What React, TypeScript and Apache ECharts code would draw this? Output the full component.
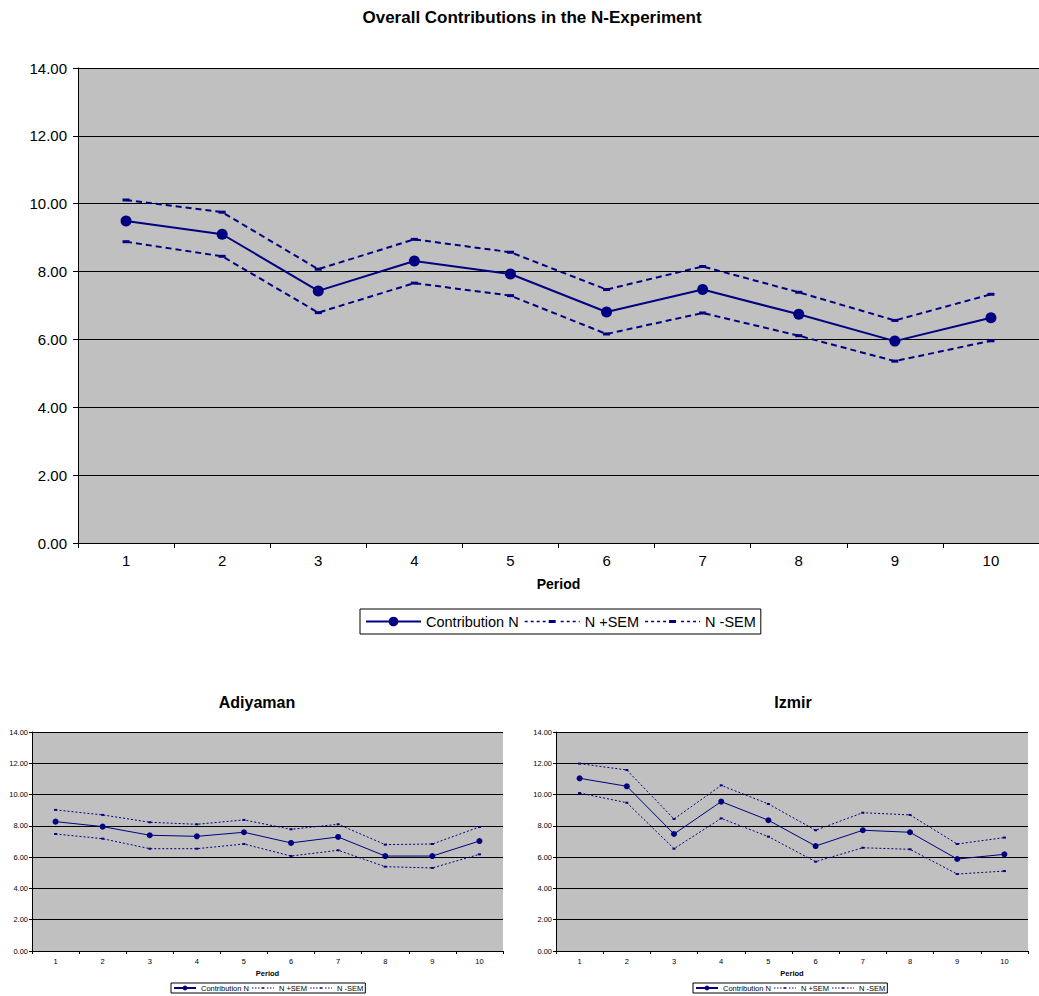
import React, { useEffect, useRef } from "react";
import * as echarts from "echarts";

const periods = ["1", "2", "3", "4", "5", "6", "7", "8", "9", "10"];
const seriesNames = ["Contribution N", "N +SEM", "N -SEM"];

const mainContribution = [9.49, 9.1, 7.43, 8.31, 7.93, 6.81, 7.47, 6.74, 5.95, 6.64];
const mainPlusSem = [10.11, 9.75, 8.07, 8.95, 8.57, 7.47, 8.15, 7.39, 6.56, 7.33];
const mainMinusSem = [8.88, 8.45, 6.79, 7.66, 7.29, 6.16, 6.78, 6.11, 5.36, 5.96];

const adiyamanContribution = [8.27, 7.95, 7.4, 7.33, 7.59, 6.91, 7.29, 6.07, 6.07, 7.03];
const adiyamanPlusSem = [9.02, 8.7, 8.23, 8.1, 8.38, 7.78, 8.1, 6.8, 6.84, 7.93];
const adiyamanMinusSem = [7.48, 7.18, 6.54, 6.54, 6.84, 6.07, 6.44, 5.39, 5.31, 6.18];

const izmirContribution = [11.04, 10.53, 7.48, 9.55, 8.36, 6.71, 7.72, 7.59, 5.88, 6.18];
const izmirPlusSem = [11.98, 11.57, 8.44, 10.59, 9.4, 7.72, 8.84, 8.7, 6.84, 7.25];
const izmirMinusSem = [10.1, 9.48, 6.54, 8.48, 7.31, 5.71, 6.6, 6.5, 4.92, 5.11];

const yMin = 0;
const yMax = 14;
const yStep = 2;

const FONT = "'Liberation Sans', Arial, sans-serif";
const NAVY = "#000080";

function semIcon(w: number, h: number, dash: number, gap: number, thin: number, markW: number, markH: number) {
  const cy = h / 2;
  let d = "";
  const mx = (w - markW) / 2;
  for (let x = 0; x < w; x += dash + gap) {
    const len = Math.min(dash, w - x);
    if (x + len > mx && x < mx + markW) continue;
    d += `M${x},${cy - thin / 2}h${len}v${thin}h${-len}z`;
  }
  d += `M${mx},${cy - markH / 2}h${markW}v${markH}h${-markW}z`;
  d += `M0,0h0.01v0.01h-0.01zM${w - 0.01},${h - 0.01}h0.01v0.01h-0.01z`;
  return "path://" + d;
}

type Cfg = {
  width: number;
  height: number;
  title: string;
  titleSize: number;
  titleX: number;
  titleTop: number;
  grid: { left: number; top: number; width: number; height: number };
  axisFont: number;
  yLabelMargin: number;
  xLabelMargin: number;
  tickLen: number;
  nameSize: number;
  nameGap: number;
  legendLeft: number;
  legendTop: number;
  legendFont: number;
  legendItemW: number;
  legendItemH: number;
  legendPad: number[];
  legendGap: number;
  semIconPath: string;
  mainWidth: number;
  semWidth: number;
  dash: number[];
  circleSize: number;
  semMark: number[];
  contribution: number[];
  plus: number[];
  minus: number[];
};

function buildOption(c: Cfg) {
  return {
    animation: false,
    backgroundColor: "#ffffff",
    textStyle: { fontFamily: FONT },
    title: {
      text: c.title,
      left: c.titleX,
      top: c.titleTop,
      textAlign: "center",
      textStyle: { fontFamily: FONT, fontSize: c.titleSize, fontWeight: "bold", color: "#000" },
    },
    grid: {
      left: c.grid.left,
      top: c.grid.top,
      width: c.grid.width,
      height: c.grid.height,
      show: true,
      backgroundColor: "#C0C0C0",
      borderWidth: 0,
    },
    legend: {
      left: c.legendLeft,
      top: c.legendTop,
      orient: "horizontal",
      borderColor: "#000",
      borderWidth: 1,
      padding: c.legendPad,
      itemGap: c.legendGap,
      itemWidth: c.legendItemW,
      itemHeight: c.legendItemH,
      selectedMode: false,
      textStyle: { fontFamily: FONT, fontSize: c.legendFont, color: "#000" },
      itemStyle: { borderWidth: 0 },
      data: [
        { name: seriesNames[0] },
        { name: seriesNames[1], icon: c.semIconPath },
        { name: seriesNames[2], icon: c.semIconPath },
      ],
    },
    xAxis: {
      type: "category",
      data: periods,
      boundaryGap: true,
      axisLine: { show: true, lineStyle: { color: "#000", width: 1 } },
      axisTick: { show: true, length: c.tickLen, interval: 0, lineStyle: { color: "#000" } },
      axisLabel: {
        color: "#000",
        fontFamily: FONT,
        fontSize: c.axisFont,
        margin: c.xLabelMargin,
        interval: 0,
      },
      splitLine: { show: false },
      name: "Period",
      nameLocation: "middle",
      nameGap: c.nameGap,
      nameTextStyle: { fontFamily: FONT, fontSize: c.nameSize, fontWeight: "bold", color: "#000" },
    },
    yAxis: {
      type: "value",
      min: yMin,
      max: yMax,
      interval: yStep,
      axisLine: { show: true, lineStyle: { color: "#000", width: 1 } },
      axisTick: { show: true, length: c.tickLen, lineStyle: { color: "#000" } },
      axisLabel: {
        color: "#000",
        fontFamily: FONT,
        fontSize: c.axisFont,
        margin: c.yLabelMargin,
        formatter: (v: number) => v.toFixed(2),
      },
      splitLine: { show: true, lineStyle: { color: "#000", width: 1 } },
    },
    series: [
      {
        name: seriesNames[1],
        type: "line",
        data: c.plus,
        symbol: "rect",
        symbolSize: c.semMark,
        itemStyle: { color: NAVY, borderWidth: 0 },
        lineStyle: { color: NAVY, width: c.semWidth, type: c.dash },
      },
      {
        name: seriesNames[2],
        type: "line",
        data: c.minus,
        symbol: "rect",
        symbolSize: c.semMark,
        itemStyle: { color: NAVY, borderWidth: 0 },
        lineStyle: { color: NAVY, width: c.semWidth, type: c.dash },
      },
      {
        name: seriesNames[0],
        type: "line",
        data: c.contribution,
        symbol: "circle",
        symbolSize: c.circleSize,
        itemStyle: { color: NAVY, borderWidth: 0 },
        lineStyle: { color: NAVY, width: c.mainWidth, type: "solid" },
      },
    ],
  };
}

function LineChart({ cfg, left, top }: { cfg: Cfg; left: number; top: number }) {
  const ref = useRef<HTMLDivElement>(null);
  useEffect(() => {
    if (!ref.current) return;
    const chart = echarts.init(ref.current, undefined, { renderer: "svg" });
    chart.setOption(buildOption(cfg) as any);
    return () => chart.dispose();
  }, [cfg]);
  return (
    <div
      ref={ref}
      style={{ position: "absolute", left, top, width: cfg.width, height: cfg.height, overflow: "hidden" }}
    />
  );
}

const mainCfg: Cfg = {
  width: 1039,
  height: 660,
  title: "Overall Contributions in the N-Experiment",
  titleSize: 17,
  titleX: 527,
  titleTop: 4,
  grid: { left: 78, top: 68, width: 965, height: 475 },
  axisFont: 15,
  yLabelMargin: 11,
  xLabelMargin: 10,
  tickLen: 5,
  nameSize: 14,
  nameGap: 34,
  legendLeft: 360,
  legendTop: 609,
  legendFont: 14.5,
  legendItemW: 55,
  legendItemH: 12,
  legendPad: [5, 5],
  legendGap: 6,
  semIconPath: semIcon(55, 12, 3, 3, 1.5, 7, 3),
  mainWidth: 2,
  semWidth: 2,
  dash: [6, 4],
  circleSize: 11,
  semMark: [7, 3],
  contribution: mainContribution,
  plus: mainPlusSem,
  minus: mainMinusSem,
};

const smallBase = {
  width: 520,
  height: 316,
  titleSize: 16,
  titleTop: 9,
  axisFont: 7.5,
  yLabelMargin: 4,
  xLabelMargin: 6,
  tickLen: 3,
  nameSize: 7.5,
  nameGap: 16,
  legendTop: 303,
  legendFont: 7.5,
  legendItemW: 22,
  legendItemH: 6,
  legendPad: [1, 2],
  legendGap: 3,
  semIconPath: semIcon(22, 6, 1.5, 1.5, 0.8, 3, 1.5),
  mainWidth: 1,
  semWidth: 1,
  dash: [2, 2],
  circleSize: 6,
  semMark: [3, 2],
};

const adiyamanCfg: Cfg = {
  ...smallBase,
  title: "Adiyaman",
  titleX: 252,
  grid: { left: 32, top: 52, width: 471, height: 219 },
  legendLeft: 171,
  contribution: adiyamanContribution,
  plus: adiyamanPlusSem,
  minus: adiyamanMinusSem,
};

const izmirCfg: Cfg = {
  ...smallBase,
  title: "Izmir",
  titleX: 268,
  grid: { left: 36, top: 52, width: 472, height: 219 },
  legendLeft: 173,
  contribution: izmirContribution,
  plus: izmirPlusSem,
  minus: izmirMinusSem,
};

export default function App() {
  return (
    <div style={{ position: "absolute", left: 0, top: 0, width: 1039, height: 996, background: "#fff", overflow: "hidden" }}>
      <LineChart cfg={mainCfg} left={0} top={0} />
      <LineChart cfg={adiyamanCfg} left={0} top={680} />
      <LineChart cfg={izmirCfg} left={520} top={680} />
    </div>
  );
}
